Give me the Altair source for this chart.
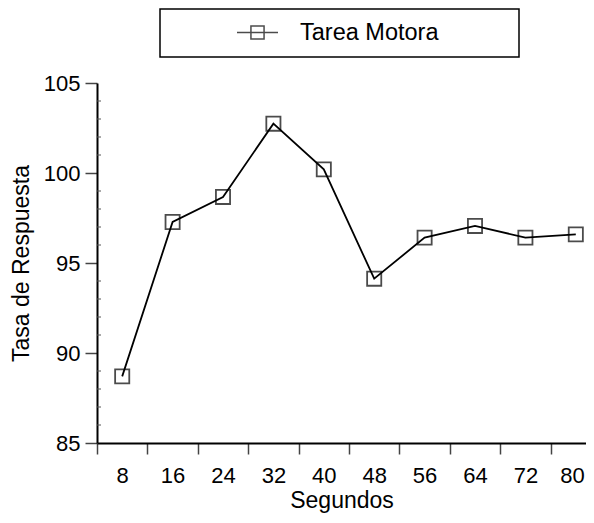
import altair as alt
import pandas as pd

# ---- data ----
segundos = [8, 16, 24, 32, 40, 48, 56, 64, 72, 80]
tasa = [88.7, 97.28, 98.67, 102.74, 100.2, 94.13, 96.41, 97.06, 96.41, 96.59]
serie = "Tarea Motora"
y_major = [85, 90, 95, 100, 105]
y_minor = [v for v in range(86, 105) if v % 5 != 0]
x_domain = [4, 81.619]   # the plot continues past the right edge of the picture

df = pd.DataFrame({"Segundos": segundos, "Tasa": tasa, "Serie": [serie] * len(segundos)})
minor_df = pd.DataFrame({"m": y_minor})
frame_df = pd.DataFrame({"k": [0]})

FONT = "Liberation Sans"
LFS = 22     # tick labels
TFS = 23     # axis titles
GFS = 23.5   # legend label
HALF_STEP = 25.2

x_enc = alt.X(
    "Segundos:Q",
    title="Segundos",
    scale=alt.Scale(domain=x_domain, nice=False, zero=False),
    axis=alt.Axis(
        values=segundos, labelAngle=0, tickSize=11, labelPadding=11,
        titlePadding=3, tickOffset=-HALF_STEP,
        labelOffset={"condition": {"test": "datum.value == 80", "value": 21.5},
                     "value": HALF_STEP},
        labelFlush=False, labelOverlap=False,
    ),
)
y_scale = alt.Scale(domain=[85, 105], nice=False, zero=False)
y_axis = alt.Axis(values=y_major, tickSize=12, labelPadding=5, titlePadding=10)

line = alt.Chart(df).mark_line(color="black", strokeWidth=1.8).encode(
    x=x_enc,
    y=alt.Y("Tasa:Q", title="Tasa de Respuesta", scale=y_scale, axis=y_axis),
)

legend_symbol = "M-1,0H1M-0.32,-0.32H0.32V0.32H-0.32Z"

points = alt.Chart(df).mark_point(shape="square", filled=False, size=200, strokeWidth=1.8).encode(
    x=x_enc,
    y=alt.Y("Tasa:Q", title="Tasa de Respuesta", scale=y_scale, axis=y_axis),
    color=alt.Color(
        "Serie:N",
        scale=alt.Scale(range=["black"]),
        legend=alt.Legend(
            title=None,
            orient="none",
            legendX=139,
            legendY=-72,
            symbolType=legend_symbol,
            symbolSize=1681,
            symbolStrokeWidth=1.5,
            symbolStrokeColor="black",
            labelFont=FONT,
            labelFontSize=GFS,
            labelColor="black",
            labelOffset=21,
            padding=0,
        ),
    ),
)

minor = alt.Chart(minor_df).mark_rule(color="#555", strokeWidth=1).encode(
    y=alt.Y("m:Q", title="Tasa de Respuesta", scale=y_scale, axis=y_axis),
    x=alt.value(0),
    x2=alt.value(4),
)

frame = alt.Chart(frame_df).mark_rect(fill=None, fillOpacity=0, stroke="black", strokeWidth=1.5).encode(
    x=alt.value(63),
    x2=alt.value(422),
    y=alt.value(-74),
    y2=alt.value(-26),
)

chart = (
    alt.layer(minor, line, points, frame)
    .properties(
        width=489,
        height=360,
        autosize=alt.AutoSizeParams(type="none"),
        padding={"left": 89, "top": 75, "right": 0, "bottom": 71},
    )
    .configure_view(stroke=None)
    .configure_axis(
        labelFont=FONT,
        titleFont=FONT,
        labelFontSize=LFS,
        titleFontSize=TFS,
        labelColor="black",
        titleColor="black",
        titleFontWeight="normal",
        domainColor="black",
        domainWidth=2,
        tickColor="#444",
        tickWidth=1.5,
        grid=False,
    )
)

chart.save("out.html", embed_options={"renderer": "svg", "actions": False})
